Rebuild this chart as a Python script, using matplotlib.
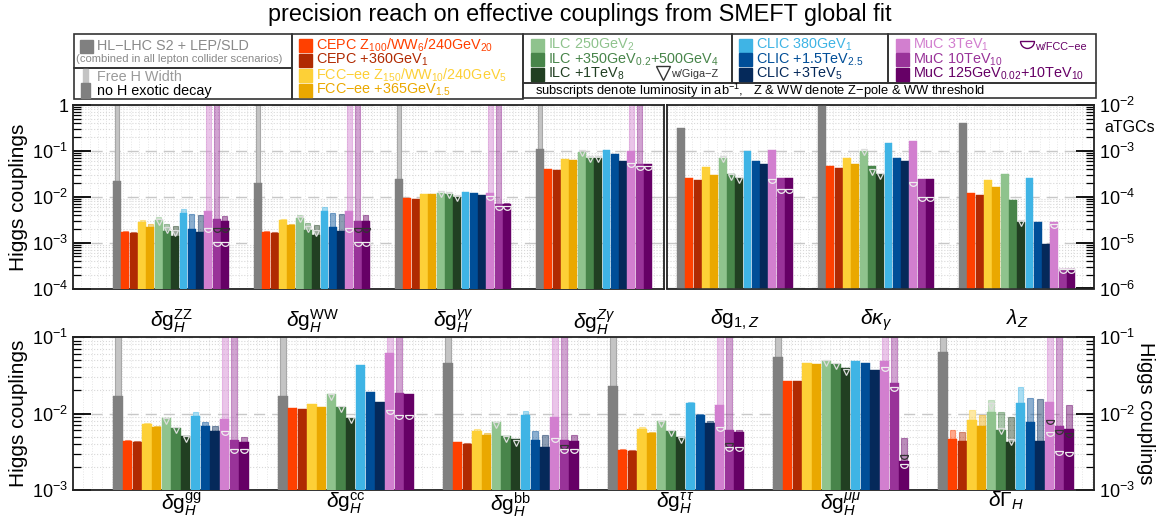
import numpy as np
import matplotlib
matplotlib.use("Agg")
import matplotlib.pyplot as plt
from matplotlib.path import Path
from matplotlib.patches import Rectangle

plt.rcParams['font.family'] = ['Liberation Sans', 'DejaVu Sans']
plt.rcParams['mathtext.fontset'] = 'custom'
plt.rcParams['mathtext.rm'] = 'Liberation Sans'
plt.rcParams['mathtext.it'] = 'Liberation Sans:italic'
plt.rcParams['mathtext.bf'] = 'Liberation Sans:bold'

inf = np.inf
nan = np.nan

# escenarios: HL-LHC, CEPC x2, FCC-ee x2, ILC x3, CLIC x3, MuC x3
colores = ['#808080', '#ff4000', '#b02a02', '#fdd037', '#eaa800',
           '#8fc38d', '#48854a', '#213f22', '#3fb4e5', '#004e98',
           '#05295a', '#d27fcf', '#993399', '#660066']

# ---- panel superior, acoplamientos de Higgs ----
etiquetas_higgs = [r'$\delta\mathrm{g}_H^{\mathrm{ZZ}}$', r'$\delta\mathrm{g}_H^{\mathrm{WW}}$',
                   r'$\delta\mathrm{g}_H^{\gamma\gamma}$', r'$\delta\mathrm{g}_H^{Z\gamma}$']
zz_main = [0.0225, 0.0017, 0.0016, 0.0028, 0.0022, 0.0031, 0.0018, 0.0014, 0.0044, 0.0020, 0.00167, 0.0048, 0.0032, 0.0029]
zz_free = [inf, 0.0018, 0.0017, 0.0031, 0.0025, 0.0037, 0.0026, 0.0023, 0.0055, 0.0043, 0.0041, inf, inf, 0.0039]
zz_gigaz = [0.0028, 0.0019, 0.0016]
zz_fcc = [[0.0021], [0.0021, 0.00105], [0.0021, 0.00105]]

ww_main = [0.0204, 0.0017, 0.0016, 0.0031, 0.0024, 0.0035, 0.0019, 0.0015, 0.0049, 0.0022, 0.0018, 0.0050, 0.0030, 0.0029]
ww_free = [inf, 0.0018, 0.0017, 0.0033, 0.0026, 0.0040, 0.0027, 0.0024, 0.0060, 0.0045, 0.0043, inf, inf, 0.0040]
ww_gigaz = [0.0032, 0.0020, 0.0016]
ww_fcc = [[0.0021], [0.0021, 0.00105], [0.0021, 0.00105]]

aa_main = [0.0246, 0.0094, 0.0089, 0.0116, 0.0116, 0.0122, 0.0113, 0.0100, 0.0128, 0.0118, 0.0110, 0.0118, 0.0069, 0.0069]
aa_free = [inf, nan, nan, nan, nan, nan, nan, nan, nan, nan, nan, inf, inf, 0.0072]
aa_gigaz = [0.0117, 0.0108, 0.0096]
aa_fcc = [[0.0105], [0.0064], [0.0064]]

za_main = [0.110, 0.0405, 0.0385, 0.067, 0.062, 0.094, 0.069, 0.069, 0.105, 0.085, 0.060, 0.100, 0.053, 0.053]
za_free = [inf, nan, nan, nan, nan, nan, nan, nan, nan, nan, nan, inf, inf, nan]
za_gigaz = [0.090, 0.066, 0.066]
za_fcc = [[0.055], [0.046], [0.046]]

# ---- panel superior, aTGCs ----
etiquetas_atgc = [r'$\delta\mathrm{g}_{1,Z}$', r'$\delta\kappa_\gamma$', r'$\lambda_Z$']
g1z_main = [3.1e-3, 2.6e-4, 2.35e-4, 4.5e-4, 3.0e-4, 6.9e-4, 3.1e-4, 2.57e-4, 1.0e-3, 6.0e-4, 5.3e-4, 1.05e-3, 2.57e-4, 2.57e-4]
g1z_gigaz = [6.6e-4, 2.7e-4, 2.3e-4]
g1z_fcc = [[2.4e-4], [1.45e-4], [1.45e-4]]

kg_main = [9.5e-3, 4.7e-4, 4.3e-4, 7.0e-4, 5.2e-4, 1.0e-3, 4.7e-4, 3.2e-4, 1.5e-3, 7.1e-4, 6.0e-4, 1.65e-3, 2.45e-4, 2.45e-4]
kg_gigaz = [9.6e-4, 3.5e-4, 2.9e-4]
kg_fcc = [[2.1e-4], [1.0e-4], [1.0e-4]]

lz_main = [4.0e-3, 1.23e-4, 1.1e-4, 2.35e-4, 1.6e-4, 3.1e-4, 8.3e-5, 2.8e-5, 2.5e-4, 2.8e-5, 9.5e-6, 2.75e-5, 2.7e-6, 2.7e-6]
lz_gigaz = [nan, nan, 2.7e-5]
lz_fcc = [[2.6e-5], [2.6e-6], [2.6e-6]]

# ---- panel inferior ----
etiquetas_abajo = [r'$\delta\mathrm{g}_H^{\mathrm{gg}}$', r'$\delta\mathrm{g}_H^{\mathrm{cc}}$',
                   r'$\delta\mathrm{g}_H^{\mathrm{bb}}$', r'$\delta\mathrm{g}_H^{\tau\,\tau}$',
                   r'$\delta\mathrm{g}_H^{\mu\mu}$', r'$\delta\Gamma_H$']
gg_main = [0.0171, 0.0044, 0.0043, 0.0073, 0.0067, 0.0087, 0.0065, 0.0051, 0.0093, 0.0069, 0.0059, 0.0086, 0.0045, 0.0043]
gg_free = [inf, 0.0045, 0.0044, 0.0076, 0.0069, nan, nan, nan, 0.0104, 0.0077, 0.0069, inf, inf, 0.0050]
gg_gigaz = [0.0081, 0.0060, 0.0046]
gg_fcc = [[0.0059], [0.0034], [0.0034]]

cc_main = [0.0171, 0.0117, 0.0114, 0.0132, 0.0123, 0.0178, 0.0121, 0.0088, 0.043, 0.0189, 0.0140, 0.061, 0.0187, 0.0178]
cc_free = [inf, nan, nan, nan, nan, nan, nan, nan, nan, nan, nan, inf, inf, nan]
cc_gigaz = [0.0165, 0.0113, 0.0082]
cc_fcc = [[0.0111], [0.0097], [0.0097]]

bb_main = [0.0457, 0.0042, 0.0040, 0.0059, 0.0052, 0.0077, 0.0051, 0.0047, 0.0095, 0.0045, 0.0037, 0.0090, 0.0045, 0.0044]
bb_free = [inf, 0.0043, 0.0041, 0.0063, 0.0055, nan, nan, nan, 0.0109, 0.0059, 0.0053, inf, inf, 0.0052]
bb_gigaz = [0.0071, 0.0046, 0.0041]
bb_fcc = [[0.0048], [0.0039, 0.0034], [0.0034]]

tt_main = [0.0229, 0.0033, 0.0032, 0.0063, 0.0056, 0.0080, 0.0059, 0.0049, 0.0136, 0.0097, 0.0076, 0.0128, 0.0061, 0.0057]
tt_free = [inf, 0.0034, 0.0033, 0.0066, 0.0058, nan, nan, nan, 0.0140, 0.0100, 0.0079, inf, inf, 0.0060]
tt_gigaz = [0.0073, 0.0055, 0.0045]
tt_fcc = [[0.0066], [0.0041, 0.0036], [0.0036]]

mm_main = [0.055, 0.0268, 0.0264, 0.0453, 0.0440, 0.048, 0.045, 0.039, 0.049, 0.046, 0.037, 0.048, 0.0248, 0.0024]
mm_free = [inf, nan, nan, nan, nan, nan, nan, nan, nan, nan, nan, inf, inf, 0.0048]
mm_gigaz = [0.046, 0.042, 0.035]
mm_fcc = [[0.040], [0.0225], [0.0029, 0.0022]]

gam_main = [0.064, 0.00465, 0.0044, 0.0082, 0.0069, 0.0104, 0.0061, 0.0042, 0.0138, 0.0078, 0.0044, 0.0143, 0.0069, 0.0063]
gam_free = [inf, 0.0061, 0.0058, 0.0111, 0.0096, 0.0150, 0.0106, 0.0091, 0.022, 0.0158, 0.0154, inf, inf, 0.0129]
gam_gigaz = [0.0125, 0.0059, 0.0042]
gam_fcc = [[0.0082, 0.0058], [0.0061, 0.0032], [0.0056, 0.0031]]

# marcador "taza" (w/FCC-ee)
arco = Path.arc(180, 360)
taza = Path(np.vstack([arco.vertices, arco.vertices[:1]]),
            list(arco.codes) + [Path.CLOSEPOLY])

PASO = 17  # separacion entre grupos (en anchos de barra)


def dibujar_grupo(ax, x0, main, free, gigaz, fcc, ylo, yhi):
    for i, (m, c) in enumerate(zip(main, colores)):
        x = x0 + i + 0.5
        f = free[i] if free is not None else nan
        if not np.isnan(f):
            top = min(f, yhi * 3)
            if i == 0:
                ax.bar(x, top - ylo, bottom=ylo, width=0.55, color='#c4c4c4',
                       edgecolor='#a8a8a8', lw=0.8, zorder=2)
            else:
                ax.bar(x, top - ylo, bottom=ylo, width=0.6, color=c, alpha=0.45,
                       edgecolor=c, lw=0.8, zorder=2)
        ax.bar(x, m - ylo, bottom=ylo, width=0.96, color=c, edgecolor=c,
               lw=0.3, zorder=3)
    for j, g in enumerate(gigaz):
        if not np.isnan(g):
            ax.plot(x0 + 5 + j + 0.5, g, marker='v', mfc='none', mec='#dcdcdc',
                    ms=5, mew=0.9, zorder=5)
    for j, lista in enumerate(fcc):
        for k, v in enumerate(lista):
            col = '#333333' if (len(lista) > 1 and k == 0) else '#eeeeee'
            ax.plot(x0 + 11 + j + 0.5, v, marker=taza, mfc='none', mec=col,
                    ms=5.5, mew=0.9, zorder=5)


def preparar(ax, ylo, yhi, xmax, pad):
    ax.set_yscale('log')
    ax.set_ylim(ylo, yhi)
    ax.set_xlim(0, xmax)
    ax.set_xticks(np.arange(0, xmax, 1.0), minor=True)
    ax.grid(True, which='major', axis='y', color='#c8c8c8', ls=(0, (8, 5)), lw=1.0, zorder=0)
    ax.grid(True, which='minor', axis='y', color='#d8d8d8', ls=':', lw=0.8, zorder=0)
    ax.grid(True, which='minor', axis='x', color='#e6e6e6', ls=':', lw=0.7, zorder=0)
    ax.tick_params(axis='y', which='major', direction='in', length=13, width=1.3, labelsize=13)
    ax.tick_params(axis='y', which='minor', direction='in', length=6, width=0.9)
    ax.tick_params(axis='x', which='both', length=0, labelsize=15, pad=pad)
    for s in ax.spines.values():
        s.set_linewidth(1.3)
        s.set_color('#222222')


fig = plt.figure(figsize=(11.58, 5.17), dpi=100)
W, H = 1158, 517

def caja(x1, y1, x2, y2):
    return [x1 / W, 1 - y2 / H, (x2 - x1) / W, (y2 - y1) / H]

# panel superior izquierdo (Higgs)
ax1 = fig.add_axes(caja(73, 105, 664, 288.5))
u1 = 141 / PASO
preparar(ax1, 1e-4, 1, 591 / u1, 14)
off1 = 40 / u1
grupos1 = [(zz_main, zz_free, zz_gigaz, zz_fcc), (ww_main, ww_free, ww_gigaz, ww_fcc),
           (aa_main, aa_free, aa_gigaz, aa_fcc), (za_main, za_free, za_gigaz, za_fcc)]
for g, (m, f, gz, fc) in enumerate(grupos1):
    dibujar_grupo(ax1, off1 + g * PASO, m, f, gz, fc, 1e-4, 1)
ax1.set_xticks([off1 + g * PASO + 7 for g in range(4)])
ax1.set_xticklabels(etiquetas_higgs)
ax1.set_yticks([1e-4, 1e-3, 1e-2, 1e-1, 1])
ax1.set_yticklabels([r'$10^{-4}$', r'$10^{-3}$', r'$10^{-2}$', r'$10^{-1}$', '1'])
ax1.tick_params(axis='y', which='both', right=False)

# panel superior derecho (aTGCs)
ax2 = fig.add_axes(caja(667, 105, 1094, 288.5))
preparar(ax2, 1e-6, 1e-2, 427 / u1, 14)
off2 = 10 / u1
grupos2 = [(g1z_main, g1z_gigaz, g1z_fcc), (kg_main, kg_gigaz, kg_fcc), (lz_main, lz_gigaz, lz_fcc)]
for g, (m, gz, fc) in enumerate(grupos2):
    dibujar_grupo(ax2, off2 + g * PASO, m, None, gz, fc, 1e-6, 1e-2)
ax2.set_xticks([off2 + g * PASO + 7 for g in range(3)])
ax2.set_xticklabels(etiquetas_atgc)
ax2.yaxis.tick_right()
ax2.tick_params(axis='y', which='both', left=False)
ax2.set_yticks([1e-6, 1e-5, 1e-4, 1e-3, 1e-2])
ax2.set_yticklabels([r'$10^{-6}$', r'$10^{-5}$', r'$10^{-4}$', r'$10^{-3}$', r'$10^{-2}$'])

# panel inferior
ax3 = fig.add_axes(caja(73, 337, 1094, 490))
u3 = 165 / PASO
preparar(ax3, 1e-3, 1e-1, 1021 / u3, 0)
off3 = 40 / u3
grupos3 = [(gg_main, gg_free, gg_gigaz, gg_fcc), (cc_main, cc_free, cc_gigaz, cc_fcc),
           (bb_main, bb_free, bb_gigaz, bb_fcc), (tt_main, tt_free, tt_gigaz, tt_fcc),
           (mm_main, mm_free, mm_gigaz, mm_fcc), (gam_main, gam_free, gam_gigaz, gam_fcc)]
for g, (m, f, gz, fc) in enumerate(grupos3):
    dibujar_grupo(ax3, off3 + g * PASO, m, f, gz, fc, 1e-3, 1e-1)
ax3.set_xticks([off3 + g * PASO + 7 for g in range(6)])
ax3.set_xticklabels(etiquetas_abajo)
ax3.set_yticks([1e-3, 1e-2, 1e-1])
ax3.set_yticklabels([r'$10^{-3}$', r'$10^{-2}$', r'$10^{-1}$'])
ax3.tick_params(axis='y', which='both', right=True, labelright=True)

# textos de ejes
fig.text(580 / W, 1 - 15 / H, 'precision reach on effective couplings from SMEFT global fit',
         ha='center', va='center', fontsize=16.8)
fig.text(19 / W, 1 - 197 / H, 'Higgs couplings', rotation=90, ha='center', va='center', fontsize=15)
fig.text(19 / W, 1 - 413 / H, 'Higgs couplings', rotation=90, ha='center', va='center', fontsize=15)
fig.text(1146 / W, 1 - 413 / H, 'Higgs couplings', rotation=270, ha='center', va='center', fontsize=14.5)
fig.text(1155 / W, 1 - 128 / H, 'aTGCs', ha='right', va='center', fontsize=11.5)

# leyenda dibujada en coordenadas de pixel
lg = fig.add_axes([0, 0, 1, 1], zorder=10)
lg.set_xlim(0, W)
lg.set_ylim(H, 0)
lg.axis('off')
borde = dict(fill=False, edgecolor='#333333', lw=1.2)
lg.add_patch(Rectangle((74, 34), 218, 34, **borde))
lg.add_patch(Rectangle((74, 68), 218, 31, **borde))
lg.add_patch(Rectangle((292, 34), 231, 65, **borde))
lg.add_patch(Rectangle((523, 34), 209, 49, **borde))
lg.add_patch(Rectangle((732, 34), 156, 49, **borde))
lg.add_patch(Rectangle((888, 34), 208, 49, **borde))
lg.add_patch(Rectangle((523, 83), 573, 15, **borde))

FS = 10.4


def entrada(x, y, color, texto, tcolor=None, fs=FS):
    lg.add_patch(Rectangle((x, y - 6.5), 13, 13, color=color))
    lg.text(x + 17, y, texto, color=tcolor or color, fontsize=fs, va='center', ha='left')


entrada(80, 46, '#808080', 'HL−LHC S2 + LEP/SLD', tcolor='#8a8a8a')
lg.text(76, 59, '(combined in all lepton collider scenarios)', color='#8a8a8a',
        fontsize=8.1, va='center', ha='left')
lg.add_patch(Rectangle((83, 69), 5, 14, color='#c4c4c4'))
lg.add_patch(Rectangle((81, 83), 9, 15, color='#808080'))
lg.text(97, 77, 'Free H Width', color='#9a9a9a', fontsize=FS, va='center')
lg.text(97, 91.5, 'no H exotic decay', color='black', fontsize=FS, va='center')

entrada(299, 45, colores[1], 'CEPC Z$_{100}$/WW$_{6}$/240GeV$_{20}$')
entrada(299, 60, colores[2], 'CEPC +360GeV$_{1}$')
entrada(299, 75, colores[3], 'FCC−ee Z$_{150}$/WW$_{10}$/240GeV$_{5}$')
entrada(299, 90, colores[4], 'FCC−ee +365GeV$_{1.5}$')

entrada(531, 45, colores[5], 'ILC 250GeV$_{2}$')
entrada(531, 59.5, colores[6], 'ILC +350GeV$_{0.2}$+500GeV$_{4}$')
entrada(531, 74, colores[7], 'ILC +1TeV$_{8}$')
lg.plot(663, 73, marker='v', mfc='none', mec='#333333', ms=10, mew=1.0)
lg.text(671, 74, 'w/Giga−Z', fontsize=7.8, va='center', color='#333333')

entrada(739, 45, colores[8], 'CLIC 380GeV$_{1}$')
entrada(739, 59.5, colores[9], 'CLIC +1.5TeV$_{2.5}$')
entrada(739, 74, colores[10], 'CLIC +3TeV$_{5}$')

entrada(896, 45, colores[11], 'MuC 3TeV$_{1}$')
entrada(896, 59.5, colores[12], 'MuC 10TeV$_{10}$')
entrada(896, 74, colores[13], 'MuC 125GeV$_{0.02}$+10TeV$_{10}$')
lg.plot(1027, 41, marker=taza, mfc='none', mec='#660066', ms=10, mew=1.0)
lg.text(1035, 47, 'w/FCC−ee', fontsize=7.8, va='center', color='#660066')

lg.text(535, 91, 'subscripts denote luminosity in ab$^{-1}$,   Z & WW denote Z−pole & WW threshold',
        fontsize=9.3, va='center', ha='left')

fig.savefig('out.png', dpi=100)
